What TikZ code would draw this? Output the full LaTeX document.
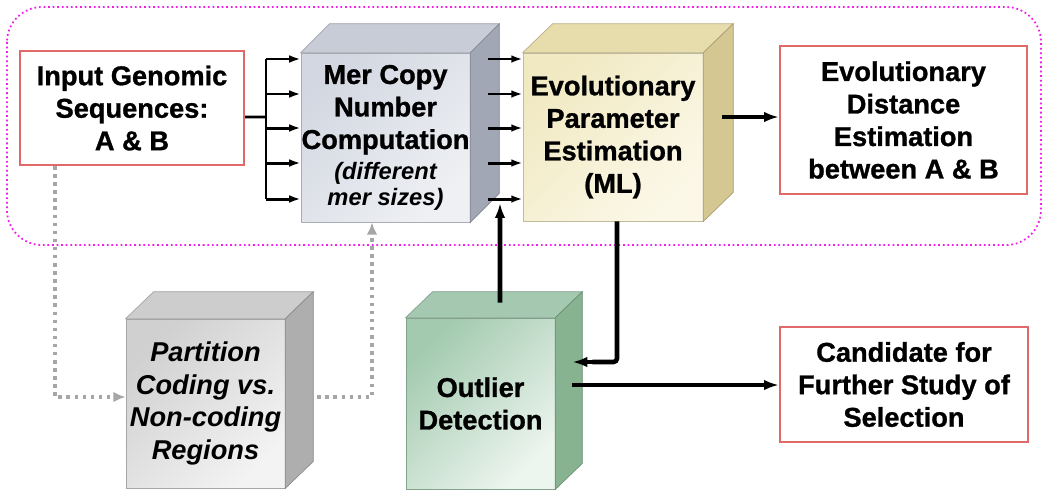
\documentclass[tikz,border=0pt]{standalone}
\usepackage{fontspec}
\setmainfont{Liberation Sans}[BoldFeatures={FakeBold=1}]
\usetikzlibrary{arrows.meta,calc}
\definecolor{boxred}{HTML}{E06A6A}
\definecolor{frame}{HTML}{F020E8}
\definecolor{dotgray}{HTML}{A6A6A6}
\definecolor{merA}{HTML}{D3D7E1}
\definecolor{merB}{HTML}{EEF0F3}
\definecolor{merTop}{HTML}{C8CCD6}
\definecolor{merSide}{HTML}{A2A7B6}
\definecolor{evoA}{HTML}{F1E9C2}
\definecolor{evoB}{HTML}{FBF8E8}
\definecolor{evoTop}{HTML}{E7DCAC}
\definecolor{evoSide}{HTML}{D4C791}
\definecolor{partA}{HTML}{D0D0D0}
\definecolor{partB}{HTML}{F3F3F3}
\definecolor{partTop}{HTML}{CDCDCD}
\definecolor{partSide}{HTML}{AEAEAE}
\definecolor{outA}{HTML}{A3CAAF}
\definecolor{outB}{HTML}{EDF5EF}
\definecolor{outTop}{HTML}{A5C9B0}
\definecolor{outSide}{HTML}{87B391}
\newcommand\mainf{\fontsize{15.5}{18.5}\selectfont\bfseries}
\newcommand\smallit{\fontsize{13.5}{15}\selectfont\bfseries\itshape}
% top and side faces of a box whose front face is node #1
\newcommand\cubefaces[5]{%
  \filldraw[fill=#4, draw=#4!80!black, line width=0.4pt]
    (#1.north west) -- ++(#2,#3) -- ([shift={(#2,#3)}]#1.north east) -- (#1.north east) -- cycle;
  \filldraw[fill=#5, draw=#5!80!black, line width=0.4pt]
    (#1.north east) -- ++(#2,#3) -- ([shift={(#2,#3)}]#1.south east) -- (#1.south east) -- cycle;
}
\tikzset{
  redbox/.style={draw=boxred, line width=1.2pt, fill=white, inner sep=0pt, align=center, font=\mainf},
  front/.style 2 args={shade, top color=#1, bottom color=#2, shading angle=45,
    draw=#1!80!black, line width=0.4pt, inner sep=0pt, align=center, font=\mainf},
  thinarrow/.style={line width=1.7pt, -{Latex[length=6.5pt,width=4.4pt]}},
  thickarrow/.style={line width=2.6pt, -{Latex[length=8.5pt,width=6pt]}},
  thickline/.style={line width=2.6pt},
  graydot/.style={draw=dotgray, line width=2pt, dash pattern=on 2pt off 2.6pt,
    -{Latex[length=7pt,width=6pt,fill=dotgray,color=dotgray]}},
}
\begin{document}
\begin{tikzpicture}[x=0.02cm,y=-0.02cm]
\useasboundingbox (0,0) rectangle (1045,491);
\fill[white] (0,0) rectangle (1045,491);

% dotted frame round the upper row
\draw[frame, line width=1pt, dash pattern=on 1pt off 1.6pt, rounded corners=0.7cm]
  (7,7) rectangle (1041,245);

% plain boxes
\node[redbox, minimum width=4.48cm, minimum height=2.28cm] (in) at (132,108)
  {Input Genomic\\Sequences:\\A \& B};
\node[redbox, minimum width=4.94cm, minimum height=2.96cm] (dist) at (903.5,120)
  {Evolutionary\\Distance\\Estimation\\between A \& B};
\node[redbox, minimum width=4.96cm, minimum height=2.30cm] (cand) at (904,384.5)
  {Candidate for\\Further Study of\\Selection};

% boxes drawn in depth
\node[front={merA}{merB}, minimum width=3.38cm, minimum height=3.38cm] (mer) at (385.5,137.5)
  {Mer Copy\\Number\\Computation\\[-1pt]{\smallit (different}\\[-4pt]{\smallit mer sizes)}};
\cubefaces{mer}{29}{-29}{merTop}{merSide}

\node[front={evoA}{evoB}, minimum width=3.6cm, minimum height=3.36cm] (evo) at (613,137)
  {Evolutionary\\Parameter\\Estimation\\(ML)};
\cubefaces{evo}{30}{-29}{evoTop}{evoSide}

\node[front={partA}{partB}, minimum width=3.18cm, minimum height=3.38cm] (part) at (205.5,403.5)
  {\itshape Partition\\\itshape Coding vs.\\\itshape Non-coding\\\itshape Regions};
\cubefaces{part}{28}{-27}{partTop}{partSide}

\node[front={outA}{outB}, minimum width=2.98cm, minimum height=3.42cm] (out) at (480.5,403.5)
  {Outlier\\Detection};
\cubefaces{out}{27}{-26}{outTop}{outSide}

% fan-out from the input sequences
\coordinate (bj) at (266,117);
\draw[line width=1.7pt] ([yshift=-0.18cm]in.east) -- (bj);
\draw[line width=1.7pt] (266,59) -- (266,199);
\foreach \y in {59,94,128,163,199} {
  \draw[thinarrow] (266,\y) -- (mer.west |- 0,\y);
  \draw[thinarrow] (488,\y) -- (evo.west |- 0,\y);
}

% estimation to distance
\draw[thickarrow] (722,117) -- (dist.west |- 0,117);

% feedback from outlier detection
\coordinate (jn) at (500,199);
\draw[thickarrow] ([xshift=0.39cm,yshift=0.3cm]out.north) -- ([yshift=-0.08cm]jn);

% estimation down to outlier detection
\coordinate (oin) at ([xshift=0.34cm,yshift=0.83cm]out.east);
\draw[thickline, rounded corners=2pt] ([xshift=0.08cm]evo.south) |- ([xshift=0.4cm]oin);
\draw[thickarrow] ([xshift=0.5cm]oin) -- (oin);

% outlier detection to candidates
\coordinate (oout) at ([xshift=0.34cm,yshift=0.37cm]out.east);
\draw[thickarrow] (oout) -- (cand.west |- oout);

% dotted partition path
\draw[graydot] ([xshift=0.72cm]in.south west) |- ([yshift=0.13cm]part.west);
\draw[graydot] ([xshift=0.64cm,yshift=0.13cm]part.east) -| ([xshift=-0.27cm]mer.south);
\end{tikzpicture}
\end{document}
